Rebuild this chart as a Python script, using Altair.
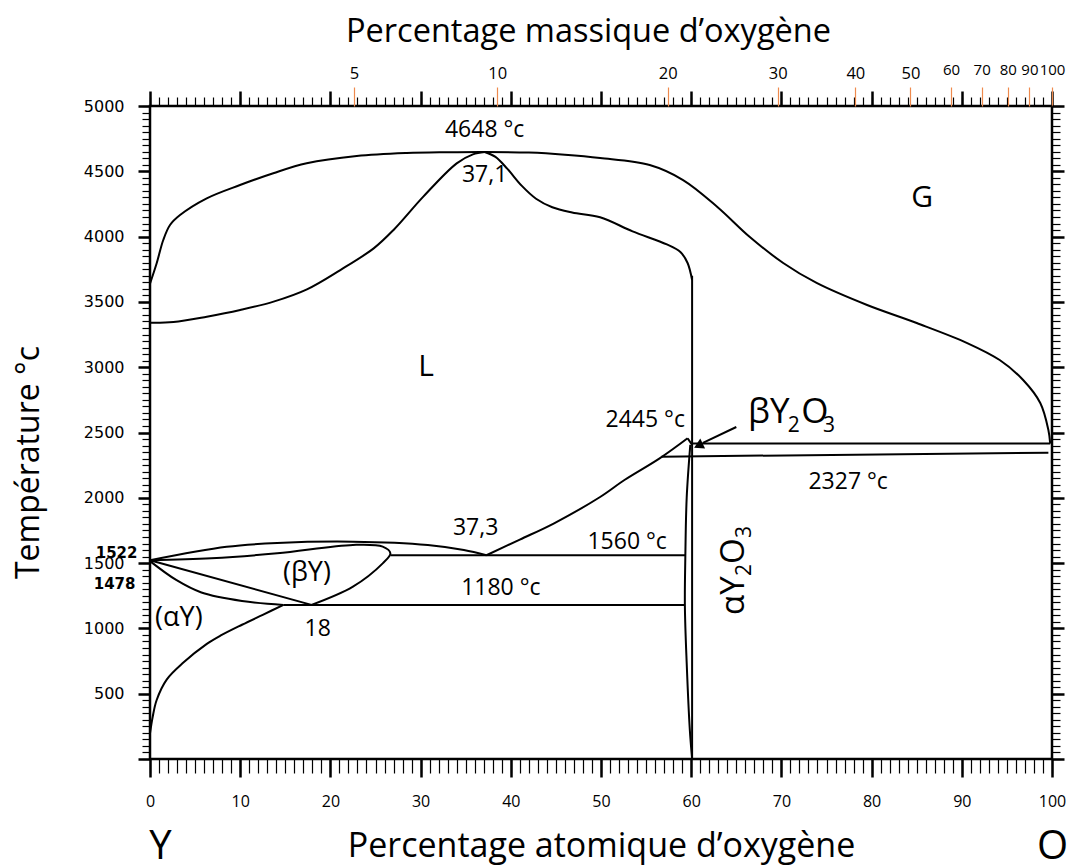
import altair as alt
import pandas as pd

FONT = "Open Sans"

# ---------------- curves (atomic % O, temperature °C) ----------------
# L / L+G boundary (outer dome, Y side -> O side)
outer_x = [0, 0.74, 1.47, 2.22, 3.33, 6.29, 9.98, 13.67, 17.37, 22.92, 28.46, 33.0, 37.1, 42.0, 46.0, 49.9,
           55.4, 59.1, 62.9, 66.5, 70.2, 73.9, 79.5, 85.0, 90.6, 94.2, 96.8, 98.7, 99.6, 99.8]
outer_t = [3640, 3796, 3974, 4089, 4165, 4293, 4395, 4485, 4561, 4617, 4640, 4646, 4648, 4643, 4627, 4602,
           4548, 4433, 4227, 3997, 3798, 3645, 3476, 3338, 3185, 3055, 2902, 2726, 2519, 2415]
# inner dome, left branch
inner_l_x = [0, 2.6, 6.3, 10.0, 13.7, 17.4, 21.1, 24.8, 27.0, 30.3, 34.0, 35.8, 37.1]
inner_l_t = [3341, 3346, 3387, 3438, 3502, 3596, 3744, 3910, 4051, 4306, 4561, 4630, 4648]
# inner dome, right branch (down to Y2O3)
inner_r_x = [37.1, 38.3, 39.6, 41.2, 42.8, 44.6, 46.8, 49.9, 53.5, 57.3, 58.8, 59.6, 60.1]
inner_r_t = [4648, 4610, 4520, 4390, 4290, 4225, 4185, 4148, 4040, 3940, 3882, 3798, 3668]
# liquidus from the 37,3 eutectic up to Y2O3
liq_x = [37.3, 41.0, 44.8, 49.9, 52.6, 56.5, 59.6]
liq_t = [1560, 1680, 1805, 2006, 2136, 2302, 2456]
# alpha-Y2O3 left boundary
ay2o3_x = [59.9, 59.5, 59.35, 59.3, 59.5, 59.85, 60.1]
ay2o3_t = [2405, 2000, 1550, 1170, 735, 220, 0]
# beta-Y liquidus
byliq_x = [0, 8.5, 14.1, 22.5, 30.8, 34.8, 37.3]
byliq_t = [1522, 1625, 1654, 1664, 1639, 1600, 1560]
# beta-Y solidus / solvus (rounded nose)
bysol_x = [0, 6.8, 14.1, 22.5, 25.8, 26.65, 25.8, 22.5, 17.9]
bysol_t = [1522, 1537, 1575, 1639, 1626, 1575, 1498, 1320, 1180]
# alpha-Y upper boundary
ay_x = [0, 2.9, 5.7, 10.2, 14.8]
ay_t = [1515, 1371, 1275, 1210, 1180]
# alpha-Y solvus
aysolv_x = [14.8, 12.5, 10.2, 7.8, 6.3, 3.7, 1.85, 0.74, 0.3, 0]
aysolv_t = [1180, 1104, 1028, 944, 881, 738, 608, 452, 324, 197]

# straight segments
y2o3_x = [60.1, 60.1]
y2o3_t = [3700, 0]
l2445_x = [60.1, 99.8]
l2445_t = [2415, 2415]
l2327_x = [56.7, 99.6]
l2327_t = [2315, 2345]
l1560_x = [26.65, 59.35]
l1560_t = [1560, 1560]
l1180_x = [14.8, 59.3]
l1180_t = [1180, 1180]
byleft_x = [0, 17.9]
byleft_t = [1522, 1180]
zig_x = [59.6, 60.1]
zig_t = [2456, 2405]
arrow_x = [65.0, 61.3]
arrow_t = [2542, 2420]
arrowhead_x = [60.8]
arrowhead_t = [2400]

# ---------------- labels ----------------
lab_text = ["4648 °c", "37,1", "G", "L", "2445 °c", "2327 °c", "1560 °c", "1180 °c", "37,3", "(βY)", "(αY)", "18"]
lab_x = [37.1, 37.1, 85.6, 30.6, 54.9, 77.4, 52.9, 38.9, 36.1, 17.4, 3.2, 18.6]
lab_t = [4816, 4470, 4299, 3004, 2596, 2121, 1663, 1307, 1769, 1428, 1080, 999]
lab_size = [23, 23, 30, 30, 23, 23, 23, 23, 23, 27, 27, 23]

beta_text = ["βY", "2", "O", "3"]
beta_x = [66.3, 70.7, 72.2, 74.6]
beta_t = [2573, 2504, 2573, 2504]
beta_size = [35, 21, 35, 21]

alpha_text = ["αY", "2", "O", "3"]
alpha_x = [65.8, 66.6, 65.8, 66.6]
alpha_t = [1103, 1401, 1493, 1692]
alpha_size = [33, 21, 33, 21]

# ---------------- axes ticks ----------------
atomic_major = list(range(0, 101, 10))
atomic_minor = list(range(0, 101, 1))
temp_major = list(range(0, 5001, 500))
temp_minor = list(range(0, 5001, 50))
mass_pos = [22.6, 38.5, 57.4, 69.6, 78.2, 84.3, 88.8, 92.2, 95.1, 97.5, 100]
mass_lab = ["5", "10", "20", "30", "40", "50", "60", "70", "80", "90", "100"]

mass_expr = "''"
for p, m in reversed(list(zip(mass_pos, mass_lab))):
    mass_expr = f"abs(datum.value - {p}) < 0.05 ? '{m}' : ({mass_expr})"

# ---------------- tables ----------------
smooth = {
    "outer": (outer_x, outer_t), "inner_l": (inner_l_x, inner_l_t), "inner_r": (inner_r_x, inner_r_t),
    "liq": (liq_x, liq_t), "ay2o3": (ay2o3_x, ay2o3_t), "byliq": (byliq_x, byliq_t),
    "bysol": (bysol_x, bysol_t), "ay": (ay_x, ay_t), "aysolv": (aysolv_x, aysolv_t),
}
straight = {
    "y2o3": (y2o3_x, y2o3_t), "l2445": (l2445_x, l2445_t), "l2327": (l2327_x, l2327_t),
    "l1560": (l1560_x, l1560_t), "l1180": (l1180_x, l1180_t), "byleft": (byleft_x, byleft_t),
    "zig": (zig_x, zig_t), "arrow": (arrow_x, arrow_t),
}


def table(d):
    rows = []
    for name, (xs, ts) in d.items():
        for i, (a, b) in enumerate(zip(xs, ts)):
            rows.append({"seg": name, "i": i, "x": a, "t": b})
    return pd.DataFrame(rows)


df_smooth = table(smooth)
df_straight = table(straight)
df_lab = pd.DataFrame({"label": lab_text, "x": lab_x, "t": lab_t, "size": lab_size})
df_beta = pd.DataFrame({"label": beta_text, "x": beta_x, "t": beta_t, "size": beta_size})
df_alpha = pd.DataFrame({"label": alpha_text, "x": alpha_x, "t": alpha_t, "size": alpha_size})
df_head = pd.DataFrame({"x": arrowhead_x, "t": arrowhead_t})

XS = alt.Scale(domain=[0, 100], nice=False, zero=False)
YS = alt.Scale(domain=[0, 5000], nice=False, zero=False)


def ax(**kw):
    base = dict(grid=False, domain=False, labels=False, ticks=True, title=None, tickColor="black",
                labelFlush=False, labelOverlap=False, labelColor="black", titleColor="black")
    base.update(kw)
    return alt.Axis(**base)


x_bottom_major = ax(orient="bottom", values=atomic_major, tickSize=18, tickWidth=2.5, labels=True,
                    labelFont=FONT, labelFontSize=16, labelPadding=16,
                    title="Percentage atomique d’oxygène", titleFont=FONT, titleFontSize=34,
                    titleFontWeight="normal", titleX=451, titleY=87, titleAlign="center",
                    titleBaseline="middle", titleAngle=0)
x_bottom_minor = ax(orient="bottom", values=atomic_minor, tickSize=14, tickWidth=1.2)
x_bottom_ends = ax(orient="bottom", values=[1.1, 100], ticks=False, labels=True,
                   labelExpr="datum.value < 50 ? 'Y' : 'O'", labelFont=FONT, labelFontSize=40,
                   labelPadding=67)
x_top_major = ax(orient="top", values=atomic_major, tickSize=15, tickWidth=2.5)
x_top_minor = ax(orient="top", values=atomic_minor, tickSize=9, tickWidth=1.2)
x_top_mass = ax(orient="top", values=mass_pos, tickSize=19, tickWidth=1.2, tickColor="#EE8A4E",
                labels=True, labelExpr=mass_expr, labelFont=FONT,
                labelFontSize={"condition": {"test": "datum.value > 88", "value": 15}, "value": 16.5},
                labelPadding={"condition": {"test": "datum.value > 88", "value": 10}, "value": 6},
                title="Percentage massique d’oxygène", titleFont=FONT, titleFontSize=32.5,
                titleFontWeight="normal", titleX=438, titleY=-75, titleAlign="center",
                titleBaseline="middle", titleAngle=0)

y_left_major = ax(orient="left", values=temp_major, tickSize=12, tickWidth=2.5, labels=True, format="d",
                  labelExpr="datum.value == 0 ? '' : datum.label", labelFont="DejaVu Sans",
                  labelFontSize=16, labelPadding=14,
                  title="Température °c", titleFont=FONT, titleFontSize=32, titleFontWeight="normal",
                  titleAngle=270, titleX=-122, titleY=356, titleAlign="center", titleBaseline="middle")
y_left_minor = ax(orient="left", values=temp_minor, tickSize=8, tickWidth=1.2)
y_right_major = ax(orient="right", values=temp_major, tickSize=12, tickWidth=2.5)
y_right_minor = ax(orient="right", values=temp_minor, tickSize=8, tickWidth=1.2)
y_left_1522 = ax(orient="left", values=[1522], ticks=False, labels=True, format="d", labelFont="DejaVu Sans",
                 labelFontSize=15, labelFontWeight="bold", labelPadding=13, labelOffset=-8)
y_left_1478 = ax(orient="left", values=[1478], ticks=False, labels=True, format="d", labelFont="DejaVu Sans",
                 labelFontSize=15, labelFontWeight="bold", labelPadding=15, labelOffset=18)

smooth_layer = alt.Chart(df_smooth).mark_line(color="black", strokeWidth=2, interpolate="catmull-rom").encode(
    x=alt.X("x:Q", scale=XS, axis=x_bottom_major),
    y=alt.Y("t:Q", scale=YS, axis=y_left_major),
    detail="seg:N", order="i:Q")

straight_layer = alt.Chart(df_straight).mark_line(color="black", strokeWidth=2).encode(
    x=alt.X("x:Q", scale=XS, axis=x_bottom_minor),
    y=alt.Y("t:Q", scale=YS, axis=y_left_minor),
    detail="seg:N", order="i:Q")

label_layer = alt.Chart(df_lab).mark_text(font=FONT, color="black", align="center", baseline="middle").encode(
    x=alt.X("x:Q", scale=XS, axis=x_top_major),
    y=alt.Y("t:Q", scale=YS, axis=y_right_major),
    text="label:N", size=alt.Size("size:Q", scale=None))

head_layer = alt.Chart(df_head).mark_point(shape="triangle-up", filled=True, color="black", opacity=1,
                                           size=120, angle=244).encode(
    x=alt.X("x:Q", scale=XS, axis=x_top_minor),
    y=alt.Y("t:Q", scale=YS, axis=y_right_minor))

beta_layer = alt.Chart(df_beta).mark_text(font=FONT, color="black", align="left", baseline="alphabetic").encode(
    x=alt.X("x:Q", scale=XS, axis=x_top_mass),
    y=alt.Y("t:Q", scale=YS, axis=y_left_1522),
    text="label:N", size=alt.Size("size:Q", scale=None))

alpha_layer = alt.Chart(df_alpha).mark_text(font=FONT, color="black", align="left", baseline="alphabetic",
                                            angle=270).encode(
    x=alt.X("x:Q", scale=XS, axis=x_bottom_ends),
    y=alt.Y("t:Q", scale=YS, axis=y_left_1478),
    text="label:N", size=alt.Size("size:Q", scale=None))

chart = alt.layer(
    smooth_layer, straight_layer, label_layer, head_layer, beta_layer, alpha_layer
).resolve_axis(x="independent", y="independent").properties(
    width=902, height=653,
    autosize=alt.AutoSizeParams(type="none"),
    padding={"left": 142, "top": 98, "right": 18, "bottom": 108},
    background="white",
).configure_view(stroke="black", strokeWidth=2.5)

chart.save("out.html", embed_options={"renderer": "svg", "actions": False})
